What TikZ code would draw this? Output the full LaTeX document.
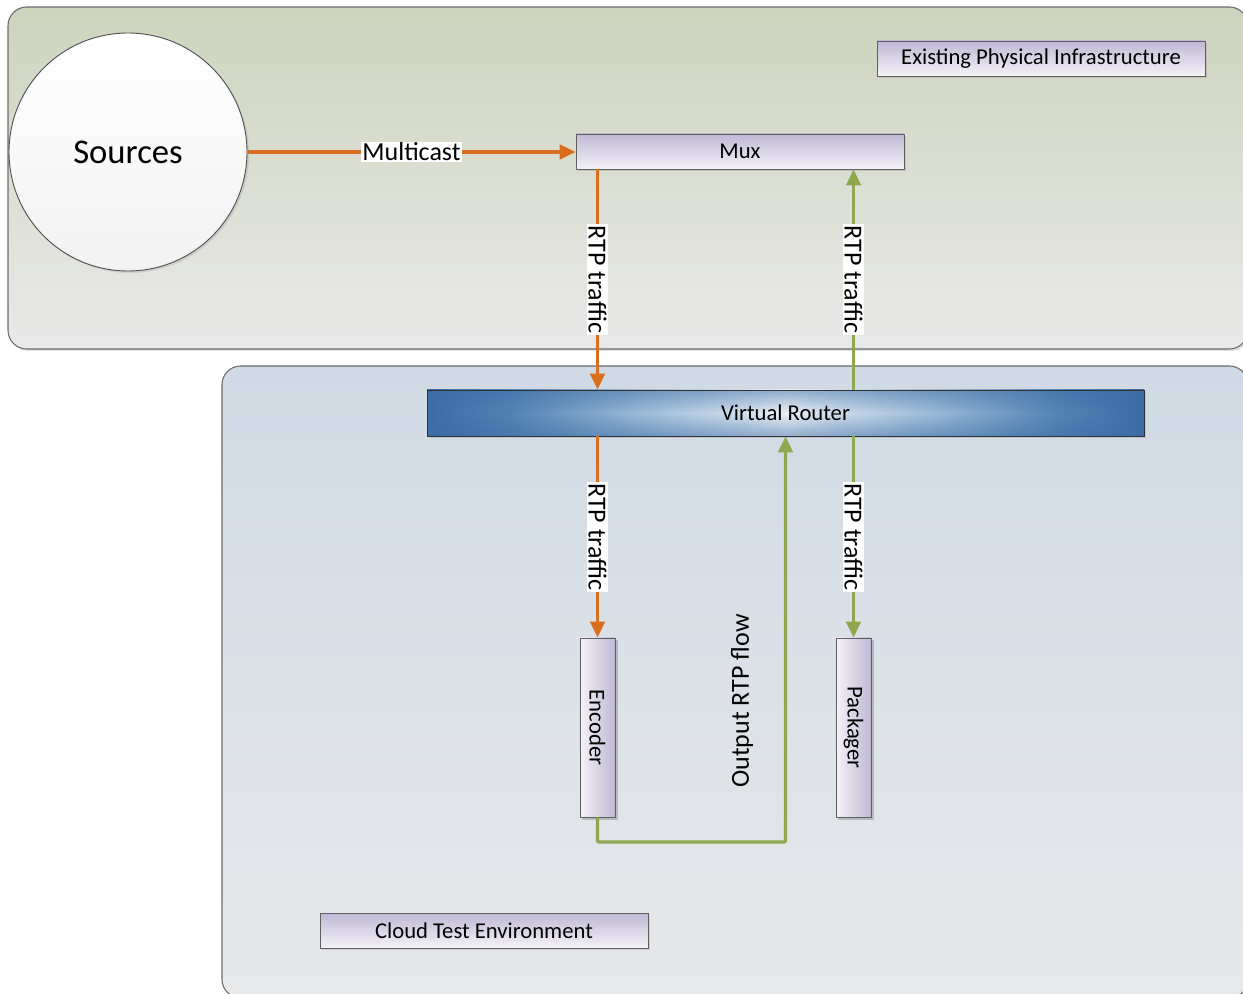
\documentclass[tikz,border=0pt]{standalone}
\usepackage{fontspec}
\setmainfont{Carlito}
\usetikzlibrary{arrows.meta,shadows,calc,fadings}
\definecolor{orng}{RGB}{217,110,30}
\definecolor{grn}{RGB}{143,168,80}
\definecolor{topA}{RGB}{204,212,188}
\definecolor{topB}{RGB}{233,233,233}
\definecolor{botA}{RGB}{208,218,228}
\definecolor{botB}{RGB}{231,232,234}
\definecolor{boxA}{RGB}{192,184,214}
\definecolor{boxB}{RGB}{244,242,247}
\definecolor{rdark}{RGB}{60,108,164}
\definecolor{rdark2}{RGB}{84,132,182}
\definecolor{rmid}{RGB}{158,188,216}
\definecolor{rlight}{RGB}{234,240,246}
\pgfdeclarehorizontalshading{routershade}{100bp}{color(0bp)=(rdark); color(25bp)=(rdark); color(31bp)=(rdark2); color(40bp)=(rmid); color(50bp)=(rlight); color(60bp)=(rmid); color(69bp)=(rdark2); color(75bp)=(rdark); color(100bp)=(rdark)}
\tikzfading[name=vband, top color=transparent!50, bottom color=transparent!50, middle color=transparent!100]
\tikzset{
  panel/.style={draw=gray!85!black, line width=0.8pt, rounded corners=14pt,
    drop shadow={opacity=0.25,shadow xshift=1.5pt,shadow yshift=-1.5pt}},
  pbox/.style={draw=gray!75!black, line width=0.7pt, top color=boxA, bottom color=boxB,
    minimum width=246pt, minimum height=26.25pt, inner sep=0pt,
    font=\fontsize{17}{20}\selectfont,
    drop shadow={opacity=0.25,shadow xshift=1.5pt,shadow yshift=-1.5pt}},
  vbox/.style={draw=gray!75!black, line width=0.7pt, left color=boxB, right color=boxA,
    rotate=-90, minimum width=134.25pt, minimum height=26.25pt, inner sep=0pt,
    font=\fontsize{17}{20}\selectfont},
  flow/.style={line width=2.5pt},
  oflow/.style={flow, draw=orng, -{Triangle[length=12pt,width=11pt]}},
  gflow/.style={flow, draw=grn, -{Triangle[length=12pt,width=11pt]}},
  lbl/.style={fill=white, inner sep=1pt, font=\fontsize{19.5}{22}\selectfont, text=black}
}
\begin{document}
\begin{tikzpicture}[x=0.75pt,y=-0.75pt]
\useasboundingbox (0,0) rectangle (1243,994);
\clip (0,0) rectangle (1243,994);
\fill[white] (0,0) rectangle (1243,994);
% panels
\path[panel, top color=topA, bottom color=topB] (8,7) rectangle (1248,349);
\path[panel, top color=botA, bottom color=botB] (222,366) rectangle (1248,998);
% nodes
\node[circle, draw=gray!65!black, line width=0.7pt, minimum size=178.5pt, top color=white, bottom color=gray!10,
  font=\fontsize{26}{30}\selectfont,
  drop shadow={opacity=0.2,shadow xshift=1.5pt,shadow yshift=-1.5pt}] (src) at (128,152) {Sources};
\node[pbox] (mux) at (740,151.5) {Mux};
\node[pbox] (epi) at (1041,58.5) {Existing Physical Infrastructure};
\node[pbox] (cte) at (484,930.5) {Cloud Test Environment};
\node[draw=gray!40!black, line width=0.7pt, shading=routershade, minimum width=537.75pt, minimum height=34.5pt,
  inner sep=0pt, font=\fontsize{17}{20}\selectfont,
  path picture={\fill[rdark, path fading=vband, fit fading=true]
    (path picture bounding box.south west) rectangle (path picture bounding box.north east);},
  drop shadow={opacity=0.25,shadow xshift=1.5pt,shadow yshift=-1.5pt}] (router) at (785.5,413) {Virtual Router};
\fill[black, opacity=0.18] (582,640) rectangle (618,820);
\fill[black, opacity=0.18] (838,640) rectangle (874,820);
\node[vbox] (enc) at (597.5,727.5) {Encoder};
\node[vbox] (pack) at (853.5,727.5) {Packager};
\coordinate (turn) at (597.5,842);
% connectors
\draw[oflow] (src.east) -- node[lbl] {Multicast} (mux.west |- src.east);
\draw[oflow] (enc |- mux.south) -- node[lbl, rotate=-90] {RTP traffic} (enc |- router.north);
\draw[oflow] (enc |- router.south) -- node[lbl, rotate=-90] {RTP traffic} (enc.west);
\draw[gflow] (pack |- router.north) -- node[lbl, rotate=-90] {RTP traffic} (pack |- mux.south);
\draw[gflow] (pack |- router.south) -- node[lbl, rotate=-90] {RTP traffic} (pack.west);
\draw[gflow, rounded corners=1pt] (enc.east) -- (turn) -| (router.south);
\node[rotate=90, inner sep=0pt, font=\fontsize{19.5}{22}\selectfont] (outlbl) at (742,701) {Output RTP flow};
\end{tikzpicture}
\end{document}
